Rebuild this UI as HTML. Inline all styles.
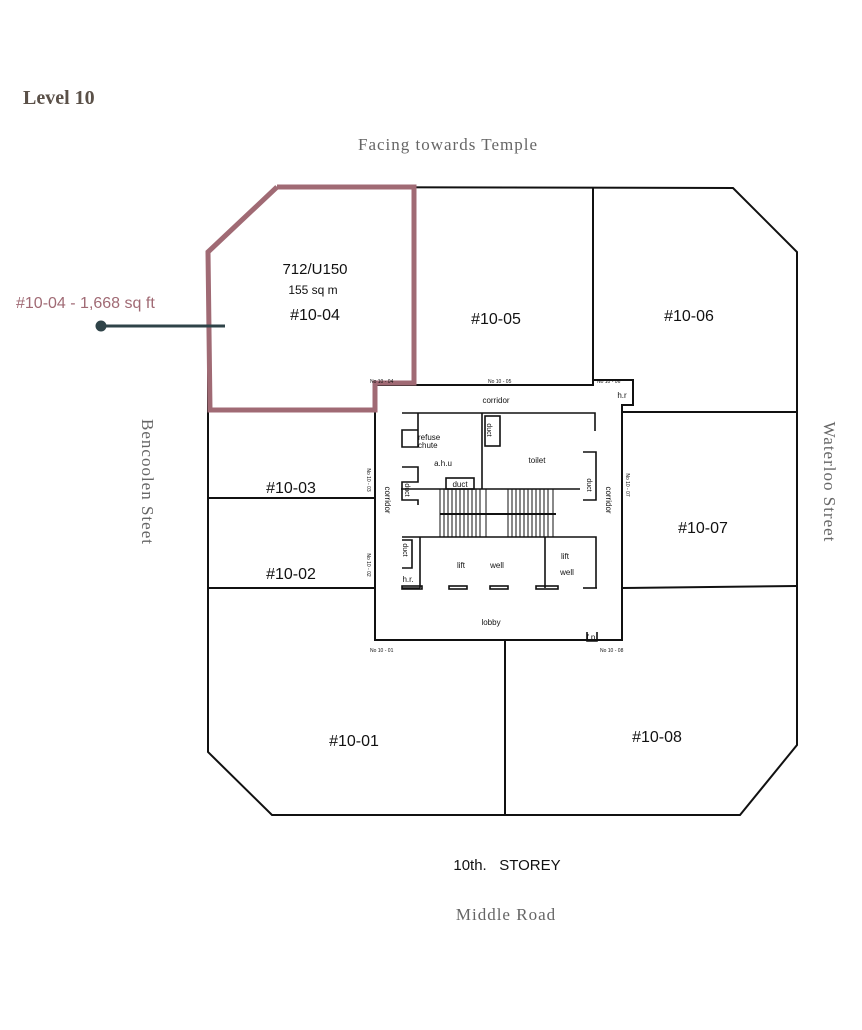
<!DOCTYPE html>
<html><head><meta charset="utf-8"><style>
html,body{margin:0;padding:0;background:#fff;}
body{width:862px;height:1025px;position:relative;overflow:hidden;font-family:"Liberation Sans",sans-serif;}
</style></head><body>
<svg width="862" height="1025" viewBox="0 0 862 1025" xmlns="http://www.w3.org/2000/svg">
<g fill="none" stroke="#111" stroke-width="2">
<!-- outer -->
<polyline points="277,187 733,188 797,252 797,745 740,815 272,815 208,752 208,252 277,187"/>
<!-- core -->
<polyline points="375,385 593,385 593,380 633,380 633,405 622,405 622,640 375,640 375,385"/>
<line x1="414" y1="187" x2="414" y2="385"/>
<line x1="593" y1="188" x2="593" y2="385"/>
<line x1="622" y1="412" x2="797" y2="412"/>
<line x1="622" y1="588" x2="797" y2="586"/>
<line x1="505" y1="640" x2="505" y2="815"/>
<line x1="208" y1="498" x2="375" y2="498"/>
<line x1="208" y1="588" x2="375" y2="588"/>
</g>
<!-- core internals -->
<g fill="none" stroke="#111" stroke-width="1.6">
<polyline points="402,413 595,413 595,431"/>
<polyline points="418,413 418,447 402,447 402,430 418,430"/>
<rect x="485" y="416" width="15" height="30"/>
<line x1="482" y1="413" x2="482" y2="489"/>
<polyline points="401,489 580,489"/>
<polyline points="402,467 418,467 418,482 402,482 402,500 418,500 418,505"/>
<rect x="446" y="478" width="28" height="11"/>
<polyline points="583,452 596,452 596,500 583,500"/>
<polyline points="402,537 596,537 596,588"/>
<line x1="420" y1="537" x2="420" y2="588"/>
<line x1="545" y1="537" x2="545" y2="588"/>
<polyline points="402,540 412,540 412,568 402,568"/>
<line x1="402" y1="588" x2="420" y2="588"/>
<rect x="402" y="586" width="20" height="3"/>
<rect x="449" y="586" width="18" height="3"/>
<rect x="490" y="586" width="18" height="3"/>
<rect x="536" y="586" width="22" height="3"/>
<polyline points="583,588 597,588"/>
<polyline points="587,632 587,641 597,641 597,632"/>
</g>
<g stroke="#111" stroke-width="1">
<line x1="440" y1="489" x2="440" y2="537"/><line x1="444" y1="489" x2="444" y2="537"/><line x1="448" y1="489" x2="448" y2="537"/><line x1="452" y1="489" x2="452" y2="537"/><line x1="456" y1="489" x2="456" y2="537"/><line x1="460" y1="489" x2="460" y2="537"/><line x1="464" y1="489" x2="464" y2="537"/><line x1="468" y1="489" x2="468" y2="537"/><line x1="472" y1="489" x2="472" y2="537"/><line x1="476" y1="489" x2="476" y2="537"/><line x1="480" y1="489" x2="480" y2="537"/><line x1="486" y1="489" x2="486" y2="537"/>
<line x1="508" y1="489" x2="508" y2="537"/><line x1="512" y1="489" x2="512" y2="537"/><line x1="516" y1="489" x2="516" y2="537"/><line x1="520" y1="489" x2="520" y2="537"/><line x1="524" y1="489" x2="524" y2="537"/><line x1="528" y1="489" x2="528" y2="537"/><line x1="532" y1="489" x2="532" y2="537"/><line x1="536" y1="489" x2="536" y2="537"/><line x1="540" y1="489" x2="540" y2="537"/><line x1="544" y1="489" x2="544" y2="537"/><line x1="548" y1="489" x2="548" y2="537"/><line x1="553" y1="489" x2="553" y2="537"/>
<line x1="440" y1="514" x2="556" y2="514" stroke-width="2"/>
</g>
<!-- highlighted unit -->
<polyline points="277,187 414,187 414,383 375,383 375,410 210,410 208,252 277,187" fill="none" stroke="#a06a74" stroke-width="5" stroke-linejoin="miter"/>
<!-- leader -->
<line x1="101" y1="326" x2="225" y2="326" stroke="#2f4348" stroke-width="3"/>
<circle cx="101" cy="326" r="5.5" fill="#2f4348"/>
<g font-family="Liberation Sans, sans-serif" fill="#111">
<text x="315" y="274" font-size="15" text-anchor="middle">712/U150</text>
<text x="313" y="294" font-size="12" text-anchor="middle">155 sq m</text>
<text x="315" y="320" font-size="16" text-anchor="middle">#10-04</text>
<text x="496" y="324" font-size="16" text-anchor="middle">#10-05</text>
<text x="689" y="321" font-size="16" text-anchor="middle">#10-06</text>
<text x="703" y="533" font-size="16" text-anchor="middle">#10-07</text>
<text x="291" y="493" font-size="16" text-anchor="middle">#10-03</text>
<text x="291" y="579" font-size="16" text-anchor="middle">#10-02</text>
<text x="354" y="746" font-size="16" text-anchor="middle">#10-01</text>
<text x="657" y="742" font-size="16" text-anchor="middle">#10-08</text>
<text x="507" y="870" font-size="15" text-anchor="middle">10th.&#160;&#160;&#160;STOREY</text>
<g font-size="8">
<text x="496" y="403" text-anchor="middle">corridor</text>
<text x="418" y="440">refuse</text>
<text x="418" y="448">chute</text>
<text x="443" y="466" text-anchor="middle">a.h.u</text>
<text x="537" y="463" text-anchor="middle">toilet</text>
<text x="460" y="487" text-anchor="middle">duct</text>
<text x="461" y="568" text-anchor="middle">lift</text>
<text x="497" y="568" text-anchor="middle">well</text>
<text x="565" y="559" text-anchor="middle">lift</text>
<text x="567" y="575" text-anchor="middle">well</text>
<text x="491" y="625" text-anchor="middle">lobby</text>
<text x="408" y="582" text-anchor="middle">h.r.</text>
<text x="622" y="398" text-anchor="middle">h.r</text>
<text x="592" y="640" text-anchor="middle">f.p.</text>
<text transform="translate(385,500) rotate(90)" text-anchor="middle">corridor</text>
<text transform="translate(606,500) rotate(90)" text-anchor="middle">corridor</text>
<text transform="translate(487,430) rotate(90)" text-anchor="middle" font-size="7">duct</text>
<text transform="translate(405,490) rotate(90)" text-anchor="middle" font-size="7">duct</text>
<text transform="translate(587,485) rotate(90)" text-anchor="middle" font-size="7">duct</text>
<text transform="translate(403,550) rotate(90)" text-anchor="middle" font-size="7">duct</text>
</g>
<g font-size="5">
<text x="370" y="383">No 10 - 04</text>
<text x="488" y="383">No 10 - 05</text>
<text x="597" y="383">No 10 - 06</text>
<text x="370" y="652">No 10 - 01</text>
<text x="600" y="652">No 10 - 08</text>
<text transform="translate(367,480) rotate(90)" text-anchor="middle">No 10 - 03</text>
<text transform="translate(367,565) rotate(90)" text-anchor="middle">No 10 - 02</text>
<text transform="translate(626,485) rotate(90)" text-anchor="middle">No 10 - 07</text>
</g>
</g>
<g font-family="Liberation Serif, serif" fill="#666">
<text x="448" y="150" font-size="17" text-anchor="middle" letter-spacing="1">Facing towards Temple</text>
<text x="506" y="920" font-size="17" text-anchor="middle" letter-spacing="1">Middle Road</text>
<text transform="translate(142,482) rotate(90)" font-size="17" text-anchor="middle" letter-spacing="1">Bencoolen Steet</text>
<text transform="translate(824,482) rotate(90)" font-size="17" text-anchor="middle" letter-spacing="1">Waterloo Street</text>
</g>
<text x="23" y="104" font-family="Liberation Serif, serif" font-weight="bold" font-size="20" fill="#5a5048">Level 10</text>
<text x="16" y="308" font-family="Liberation Sans, sans-serif" font-size="16" fill="#a06a74">#10-04 - 1,668 sq ft</text>
</svg>
</body></html>
